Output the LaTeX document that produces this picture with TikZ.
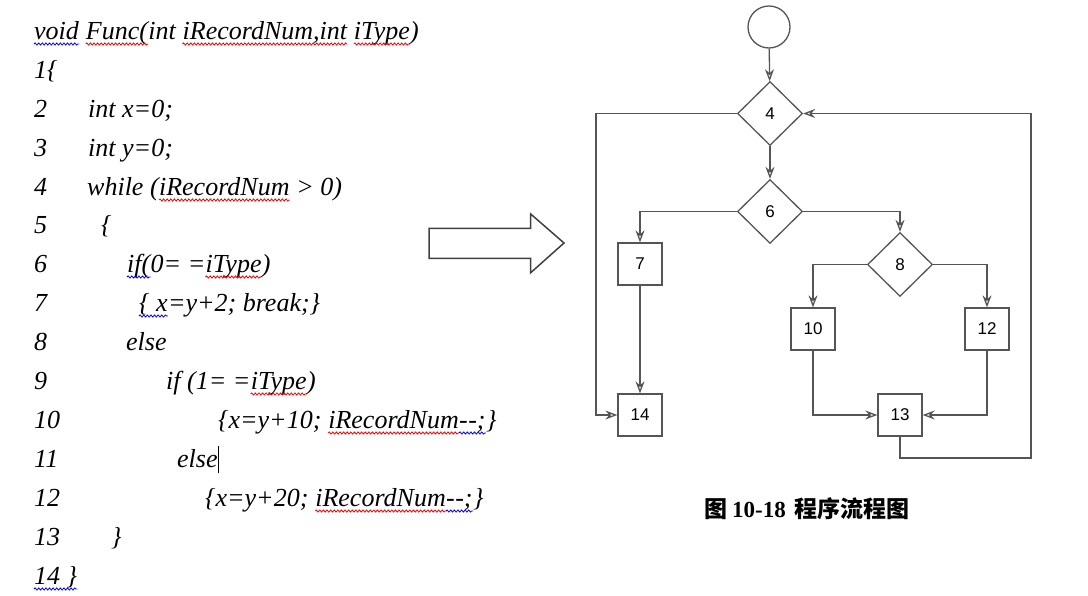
\documentclass[tikz,border=0pt]{standalone}
\usepackage{fontspec}
\setmainfont{Liberation Serif}
\newfontfamily\numfont{Liberation Sans}
\newfontfamily\cjk{Noto Sans CJK SC}
\usetikzlibrary{shapes.geometric,arrows.meta,decorations.pathmorphing}
\definecolor{fl}{HTML}{555555}
\tikzset{
  code/.style={anchor=base west,inner sep=0pt,font=\fontsize{26}{30}\selectfont\itshape},
  wave/.style={line width=0.8pt,decorate,decoration={snake,amplitude=1.1pt,segment length=3.6pt}},
  dia/.style={draw=fl,line width=1.3pt,diamond,minimum width=65pt,minimum height=64pt,inner sep=0pt,font=\numfont\fontsize{17}{20}\selectfont},
  box/.style={draw=fl,line width=1.3pt,rectangle,minimum width=44pt,minimum height=42pt,inner sep=0pt,font=\numfont\fontsize{17}{20}\selectfont},
  startc/.style={draw=fl,line width=1.3pt,circle,minimum size=42pt,inner sep=0pt},
  flow/.style={draw=fl,line width=1.3pt,-{Stealth[open,length=12pt,width=9pt,inset=4pt]}},
}
\newcommand\sq[2]{\draw[#1,wave] ([yshift=-5pt]#2.base west) -- ([yshift=-5pt]#2.base east);}
\newcommand\dd{-\kern0.5pt-}
\begin{document}
\begin{tikzpicture}[x=1pt,y=-1pt]
\useasboundingbox (0,0) rectangle (1088,595);
% ---- code ----
\node[code] (c0a) at (34,39) {void};
\node[code] (c0b) at ([xshift=6.5pt]c0a.base east) {Func(};
\node[code] (c0c) at (c0b.base east) {int};
\node[code] (c0d) at ([xshift=6.5pt]c0c.base east) {iRecordNum,int};
\node[code] (c0e) at ([xshift=6.5pt]c0d.base east) {iType};
\node[code] (c0f) at (c0e.base east) {)};
\sq{blue}{c0a}\sq{red}{c0b}\sq{red}{c0d}\sq{red}{c0e}
\node[code] (n1) at (34,78) {1\{};
\node[code] (n2) at (34,117) {2};
\node[code] (t2) at (88,117) {int x=0;};
\node[code] (n3) at (34,156) {3};
\node[code] (t3) at (88,156) {int y=0;};
\node[code] (n4) at (34,195) {4};
\node[code] (t4a) at (87,195) {while (};
\node[code] (t4b) at (t4a.base east) {iRecordNum};
\node[code] (t4c) at ([xshift=6.5pt]t4b.base east) {> 0)};
\sq{red}{t4b}
\node[code] (n5) at (34,233) {5};
\node[code] (t5) at (101,233) {\{};
\node[code] (n6) at (34,272) {6};
\node[code] (t6a) at (127,272) {if(};
\node[code] (t6b) at (t6a.base east) {0= =};
\node[code] (t6c) at (t6b.base east) {iType};
\node[code] (t6d) at (t6c.base east) {)};
\sq{blue}{t6a}\sq{red}{t6c}
\node[code] (n7) at (34,311) {7};
\node[code] (t7a) at (139,311) {\{ x};
\node[code] (t7b) at (t7a.base east) {=y+2; break;\}};
\sq{blue}{t7a}
\node[code] (n8) at (34,350) {8};
\node[code] (t8) at (126,350) {else};
\node[code] (n9) at (34,389) {9};
\node[code] (t9a) at (166,389) {if (1= =};
\node[code] (t9b) at (t9a.base east) {iType};
\node[code] (t9c) at (t9b.base east) {)};
\sq{red}{t9b}
\node[code] (n10) at (34,428) {10};
\node[code] (t10a) at (218,428) {\{x=y+10;};
\node[code] (t10b) at ([xshift=6.5pt]t10a.base east) {iRecordNum};
\node[code] (t10c) at (t10b.base east) {\dd;};
\node[code] (t10d) at (t10c.base east) {\}};
\sq{red}{t10b}\sq{blue}{t10c}
\node[code] (n11) at (34,467) {11};
\node[code] (t11) at (177,467) {else\rule[-6pt]{0.8pt}{27pt}};
\node[code] (n12) at (34,506) {12};
\node[code] (t12a) at (205,506) {\{x=y+20;};
\node[code] (t12b) at ([xshift=6.5pt]t12a.base east) {iRecordNum};
\node[code] (t12c) at (t12b.base east) {\dd;};
\node[code] (t12d) at (t12c.base east) {\}};
\sq{red}{t12b}\sq{blue}{t12c}
\node[code] (n13) at (34,545) {13};
\node[code] (t13) at (111,545) {\}};
\node[code] (n14) at (34,584) {14 \}};
\sq{blue}{n14}
% ---- block arrow ----
\draw[draw=black!75,line width=1.5pt,line join=miter] (429,228.3) -- (530.7,228.3) -- (530.7,214) -- (564,243) -- (530.7,272.7) -- (530.7,258.3) -- (429,258.3) -- cycle;
% ---- flowchart ----
\node[startc] (s) at (769,27) {};
\node[dia] (d4) at (770,113.5) {4};
\node[dia] (d6) at (770,211.5) {6};
\node[dia] (d8) at (900,264.5) {8};
\node[box] (b7) at (640,264) {7};
\node[box] (b14) at (640,415) {14};
\node[box] (b10) at (813,329) {10};
\node[box] (b12) at (987,329) {12};
\node[box] (b13) at (900,415) {13};
\coordinate (L) at (596,113.5);
\coordinate (R) at (1031,458);
\draw[flow] (s) -- (d4);
\draw[flow] (d4) -- (d6);
\draw[flow] (d4.west) -- (L) |- (b14.west);
\draw[flow] (d6.west) -| (b7.north);
\draw[flow] (d6.east) -| (d8.north);
\draw[flow] (d8.west) -| (b10.north);
\draw[flow] (d8.east) -| (b12.north);
\draw[flow] (b7) -- (b14);
\draw[flow] (b10.south) |- (b13.west);
\draw[flow] (b12.south) |- (b13.east);
\draw[flow] (b13.south) |- (R) |- (d4.east);
% ---- caption ----
\node[anchor=base west,inner sep=0pt,font=\fontsize{23}{27}\selectfont\bfseries] (cap) at (704,517) {{\cjk\bfseries 图}\hspace{5pt}10-18\hspace{9pt}{\cjk\bfseries 程序流程图}};
\end{tikzpicture}
\end{document}
